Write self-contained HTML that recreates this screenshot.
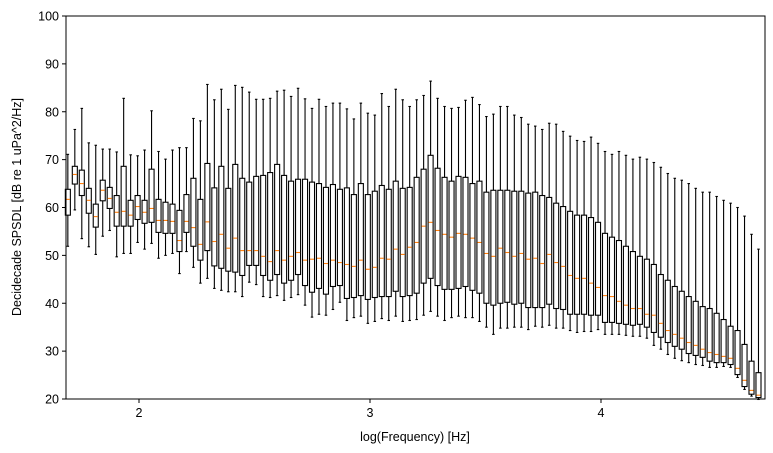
<!DOCTYPE html>
<html><head><meta charset="utf-8"><style>
body{margin:0;background:#fff;}
svg{display:block;font-family:"Liberation Sans","DejaVu Sans",sans-serif;}
</style></head><body>
<svg id="chart" width="773" height="453" viewBox="0 0 773 453" xmlns="http://www.w3.org/2000/svg">
<rect x="0" y="0" width="773" height="453" fill="#fff"/>
<g id="marks"></g>
<g id="axes"></g>
<text x="415" y="441" font-size="12.5" text-anchor="middle">log(Frequency) [Hz]</text>
<text x="21" y="207" font-size="12.5" text-anchor="middle" transform="rotate(-90 21 207)">Decidecade SPSDL [dB re 1 uPa^2/Hz]</text>
</svg>
<script>
const whiskerHigh=[71.1,76.3,80.7,73.5,73.0,72.2,72.2,71.6,82.8,71.0,70.8,72.0,80.2,71.7,70.1,72.0,72.5,72.5,78.6,78.1,
85.7,82.5,84.7,80.5,85.5,85.1,84.1,82.6,82.6,82.8,84.3,84.5,83.2,84.9,82.7,80.7,82.6,81.1,81.8,81.8,
80.6,78.5,81.8,79.7,79.3,83.8,81.1,84.7,82.5,81.1,82.5,83.4,86.4,82.8,81.1,80.7,80.9,82.4,83.0,81.5,
79.0,79.5,81.1,81.1,79.3,78.8,77.4,77.0,76.3,77.6,77.4,75.9,74.9,74.0,73.8,74.7,73.4,71.7,71.1,71.7,
70.9,70.1,70.5,70.1,69.4,68.4,67.1,66.1,65.7,65.0,64.0,63.2,63.2,62.3,61.5,60.9,60.0,58.2,54.4,51.3];
const q3=[63.8,68.6,67.8,64.0,60.7,65.7,64.2,62.5,68.6,61.5,62.5,61.5,68.0,61.7,61.1,60.7,59.4,62.7,66.1,61.7,
69.2,64.1,68.6,64.0,69.0,66.1,65.3,66.5,66.7,67.3,69.0,66.7,65.5,65.9,65.9,65.3,65.0,64.2,64.8,63.8,
64.1,62.7,65.0,62.7,63.4,64.6,63.8,65.5,64.0,64.2,66.3,68.0,70.9,68.2,66.3,65.5,66.5,66.3,65.0,65.5,
63.2,63.6,63.6,63.6,63.4,63.4,63.0,63.2,62.5,62.1,60.9,60.2,59.2,58.4,58.4,57.9,56.9,54.6,53.8,53.1,
51.9,50.8,49.8,49.2,48.1,46.0,44.8,43.5,42.5,41.4,40.4,39.3,38.9,37.9,36.6,35.2,34.3,31.4,27.9,25.5];
const median=[61.7,66.9,65.0,61.5,58.1,63.6,61.9,59.0,59.2,58.4,60.2,59.0,59.8,57.3,57.3,57.1,53.1,57.1,55.8,52.3,
57.0,52.9,54.4,51.5,53.6,51.0,51.0,51.0,49.8,48.7,51.0,49.0,49.8,50.6,49.0,49.2,49.4,48.3,49.0,48.5,
48.1,47.7,49.0,47.1,47.5,49.4,49.2,51.3,50.2,51.7,52.7,56.1,56.9,55.2,54.4,53.8,54.6,54.4,53.6,52.7,
50.4,49.8,51.5,50.6,49.8,50.4,49.2,49.4,48.3,50.2,48.5,47.7,45.8,45.2,45.2,44.2,43.3,41.6,41.4,40.4,
39.6,38.9,38.9,37.7,37.5,35.8,34.3,33.5,32.7,31.8,31.2,30.4,29.7,29.3,28.9,28.5,26.4,23.9,21.8,20.8];
const q1=[58.4,64.9,62.5,58.8,55.9,61.4,59.8,56.1,56.1,56.1,57.5,56.7,56.9,54.8,54.6,54.6,50.8,54.8,51.9,49.0,
51.0,47.8,47.3,46.7,46.5,45.8,47.9,47.9,45.8,44.8,46.0,44.2,44.8,46.0,43.7,42.3,43.1,41.9,43.5,43.7,
41.0,41.2,41.6,40.8,41.2,41.4,41.4,42.5,41.4,41.6,42.1,44.2,45.2,43.7,42.9,42.9,43.1,43.5,42.7,42.1,
40.0,39.6,40.0,40.2,39.8,40.0,39.1,39.1,39.1,39.8,38.9,38.7,37.7,37.7,37.7,37.5,37.5,36.0,36.0,35.8,
35.6,35.4,35.6,35.0,33.9,32.9,31.8,31.0,30.4,29.5,29.1,28.7,27.9,27.6,27.6,27.2,25.1,22.6,21.0,20.3];
const whiskerLow=[51.9,59.5,53.5,51.8,50.2,54.0,55.2,49.7,50.4,50.4,52.7,51.3,52.5,49.4,50.0,50.4,46.2,50.8,47.5,44.2,
45.2,43.1,42.7,42.4,42.4,41.4,44.4,43.9,41.4,41.2,41.6,40.6,41.2,41.8,39.6,37.1,37.7,37.5,38.7,40.2,
36.4,37.0,37.3,35.8,36.2,36.8,36.4,37.3,36.2,36.4,36.6,37.5,38.3,37.3,36.4,37.0,37.3,37.0,37.0,36.2,
35.0,33.5,34.8,34.8,35.0,35.0,34.5,35.2,35.0,35.4,34.8,34.8,34.3,33.9,34.1,34.1,34.5,33.5,33.5,33.5,
33.3,33.1,33.1,32.7,31.2,30.4,29.3,28.5,28.0,27.6,27.2,27.0,26.6,26.6,26.8,26.6,24.5,22.0,20.6,19.9];
const logFreqStart=1.692, logFreqStep=0.0302;
const yTicks=[20,30,40,50,60,70,80,90,100];
const xTicks=[2,3,4];

const L=66,R=765,T=16,B=399;
const xMin=1.6840,xMax=4.7100,yMin=20,yMax=100;
const X=v=>L+(v-xMin)/(xMax-xMin)*(R-L);
const Y=v=>B-(v-yMin)/(yMax-yMin)*(B-T);
const NS="http://www.w3.org/2000/svg";
function mk(tag,attrs,parent){const e=document.createElementNS(NS,tag);for(const k in attrs)e.setAttribute(k,attrs[k]);parent.appendChild(e);return e;}
const marks=document.getElementById('marks');
const axes=document.getElementById('axes');
const halfW=0.0109;
for(let i=0;i<median.length;i++){
  const p=logFreqStart+i*logFreqStep;
  const g=mk('g',{},marks);
  
  
  const xc=X(p),x0=X(p-halfW),x1=X(p+halfW),cw=(x1-x0)/4;
  const st={stroke:'#000','stroke-width':1.1,fill:'none'};
  mk('line',Object.assign({x1:xc,x2:xc,y1:Y(q3[i]),y2:Y(whiskerHigh[i])},st),g);
  mk('line',Object.assign({x1:xc,x2:xc,y1:Y(q1[i]),y2:Y(whiskerLow[i])},st),g);
  mk('line',Object.assign({x1:xc-cw,x2:xc+cw,y1:Y(whiskerHigh[i]),y2:Y(whiskerHigh[i])},st),g);
  mk('line',Object.assign({x1:xc-cw,x2:xc+cw,y1:Y(whiskerLow[i]),y2:Y(whiskerLow[i])},st),g);
  mk('rect',{x:x0,y:Y(q3[i]),width:x1-x0,height:Math.max(0.5,Y(q1[i])-Y(q3[i])),fill:'#fff',stroke:'#000','stroke-width':1.1},g);
  const m=mk('line',{x1:x0+0.5,x2:x1-0.5,y1:Y(median[i]),y2:Y(median[i]),stroke:'#ff7f0e','stroke-width':1.1},g);
  
  
}
const frame=mk('rect',{x:L,y:T,width:R-L,height:B-T,fill:'none',stroke:'#000','stroke-width':1},axes);


yTicks.forEach(t=>{
  mk('line',{x1:L-4,x2:L,y1:Y(t),y2:Y(t),stroke:'#000','stroke-width':1},axes);
  const tx=mk('text',{x:L-7,y:Y(t)+4.5,'font-size':'12.5','text-anchor':'end'},axes);
  tx.textContent=t;
  
  
});
xTicks.forEach(t=>{
  mk('line',{x1:X(t),x2:X(t),y1:B,y2:B+4,stroke:'#000','stroke-width':1},axes);
  const tx=mk('text',{x:X(t),y:B+18,'font-size':'12.5','text-anchor':'middle'},axes);
  tx.textContent=t;
  
  
});
</script>
</body></html>
